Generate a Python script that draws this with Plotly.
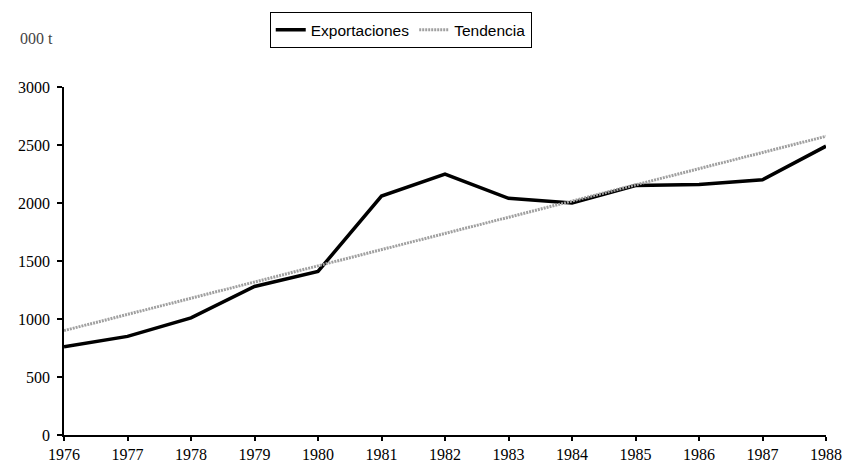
import plotly.graph_objects as go

# %%
years = [1976, 1977, 1978, 1979, 1980, 1981, 1982, 1983, 1984, 1985, 1986, 1987, 1988]
exportaciones = [760, 850, 1010, 1280, 1410, 2060, 2250, 2040, 2000, 2150, 2160, 2200, 2490]
tendencia = [900, 1040, 1180, 1320, 1460, 1600, 1740, 1880, 2020, 2160, 2300, 2440, 2575]
y_ticks = [0, 500, 1000, 1500, 2000, 2500, 3000]
unit_label = "000 t"

# %%
fig = go.Figure()
fig.add_trace(go.Scatter(x=years, y=exportaciones, mode="lines", name="Exportaciones",
                         line=dict(color="black", width=3.5)))
fig.add_trace(go.Scatter(x=years, y=tendencia, mode="lines", name="Tendencia",
                         line=dict(color="#a0a0a0", width=3, dash="2px,1px")))

serif = "Liberation Serif, Times New Roman, serif"
fig.update_layout(
    width=847, height=467,
    margin=dict(l=64, r=21, t=87, b=32, autoexpand=False),
    plot_bgcolor="white", paper_bgcolor="white",
    showlegend=True,
    legend=dict(orientation="h", x=0.27, y=1.215, xanchor="left", yanchor="top",
                bordercolor="black", borderwidth=1, bgcolor="white",
                font=dict(family="Liberation Sans, Arial, sans-serif", size=15.5, color="black"),
                itemwidth=30, tracegroupgap=0),
    xaxis=dict(range=[1976, 1988], tickvals=years, ticks="outside", ticklen=4, tickwidth=1.5,
               tickcolor="black", showline=True, linecolor="black", linewidth=1.5,
               showgrid=False, zeroline=False, automargin=False, ticklabelstandoff=0,
               tickfont=dict(family=serif, size=16, color="black")),
    yaxis=dict(range=[0, 3000], tickvals=y_ticks, ticks="outside", ticklen=5, tickwidth=1.5,
               tickcolor="black", showline=True, linecolor="black", linewidth=1.5,
               showgrid=False, zeroline=False, automargin=False, ticklabelstandoff=4,
               tickfont=dict(family=serif, size=16, color="black")),
)
fig.add_annotation(text=unit_label, xref="paper", yref="paper", x=-0.06, y=1.14,
                   xanchor="left", yanchor="middle", showarrow=False,
                   font=dict(family=serif, size=16, color="#444444"))

# drop the default 8px page margin so the figure fills the window exactly
fig.write_html("out.html", config={"displayModeBar": False},
               post_script="document.body.style.margin='0';")
